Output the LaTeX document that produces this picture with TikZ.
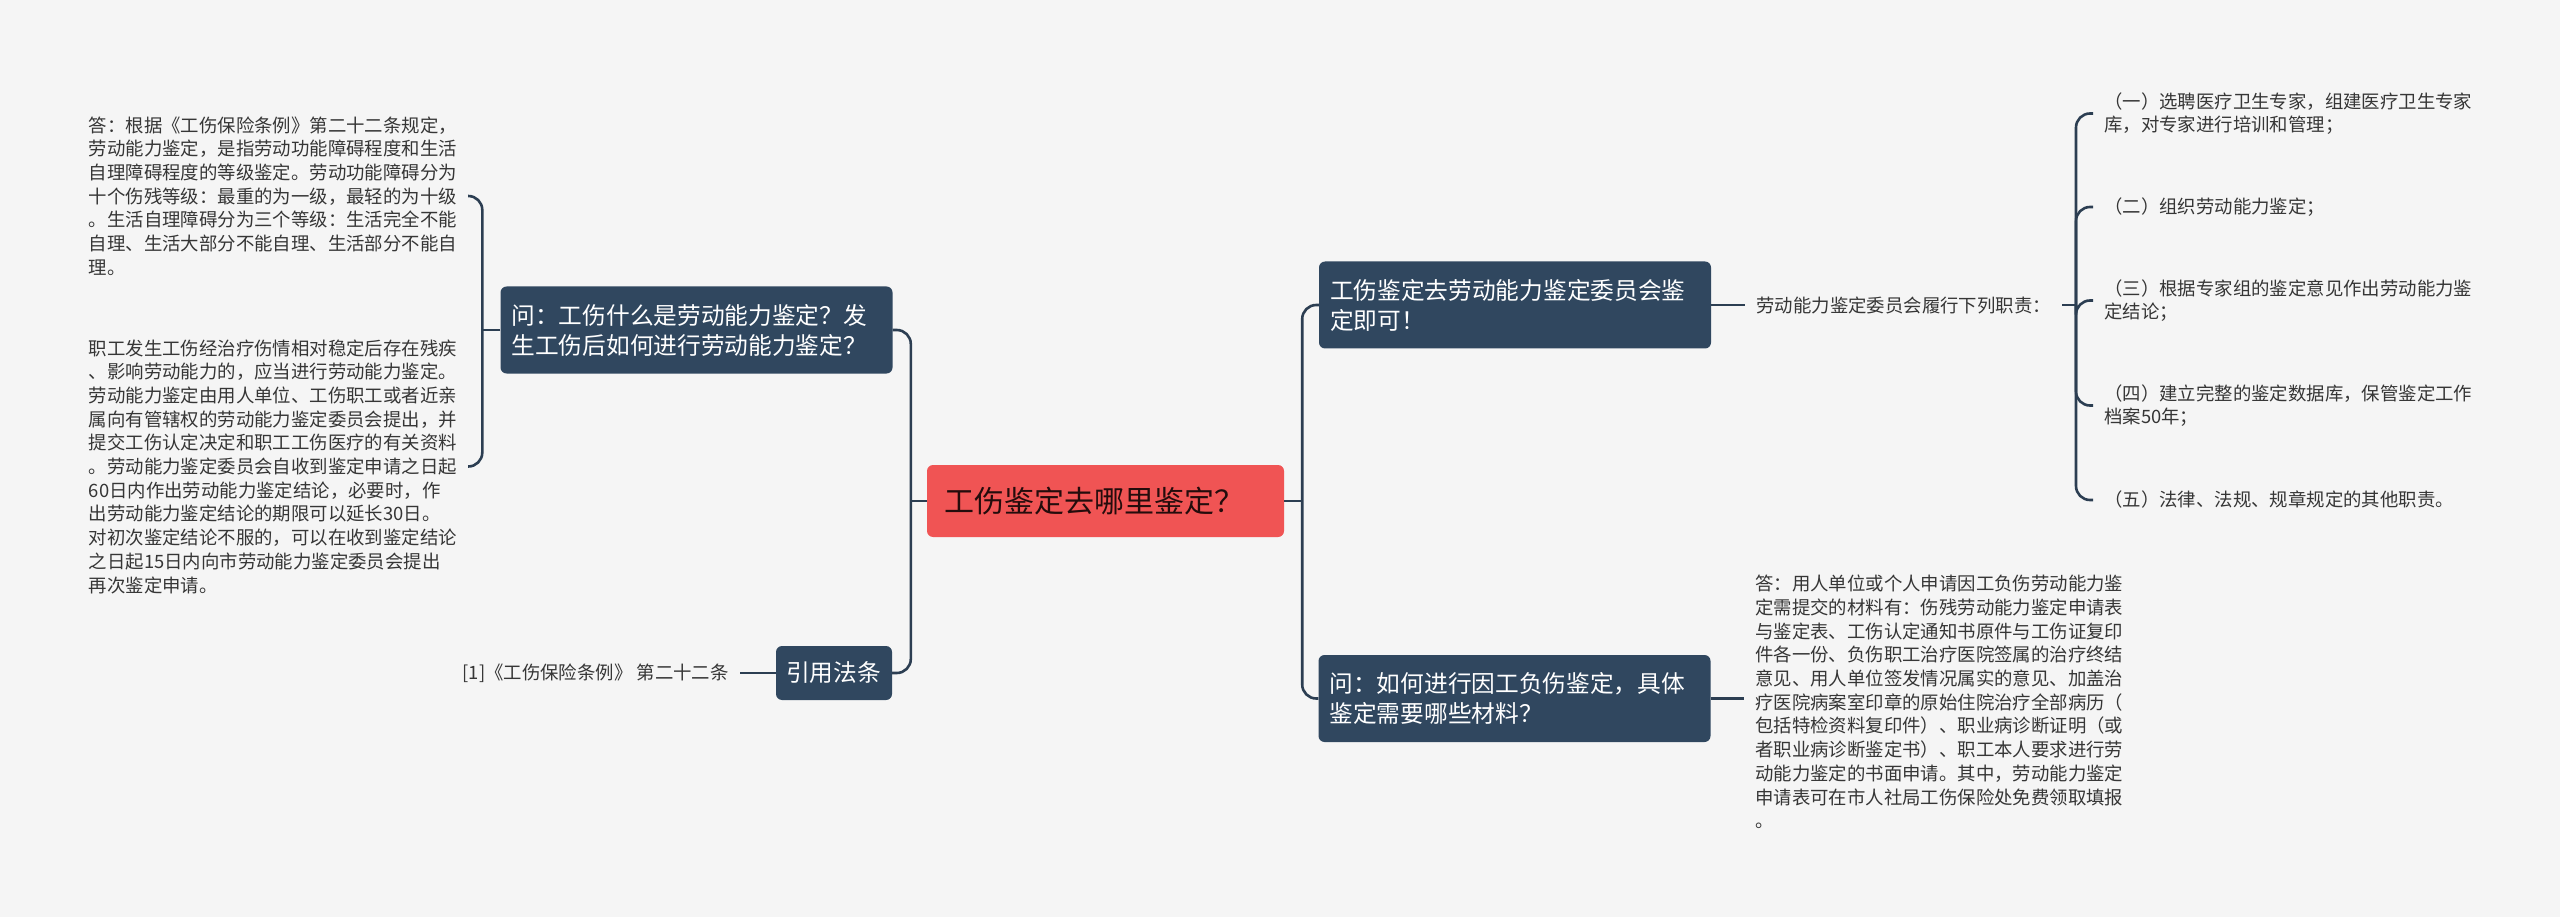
\documentclass[tikz,border=0pt]{standalone}
\usepackage{fontspec}
\setmainfont{Noto Sans CJK SC}
\usepackage{xcolor}
\usepackage{tikz}
\usetikzlibrary{positioning}

\definecolor{bgc}{HTML}{F5F5F5}
\definecolor{rootc}{HTML}{F05454}
\definecolor{topicc}{HTML}{30475F}
\definecolor{linec}{HTML}{2C3E52}
\definecolor{leafc}{HTML}{363636}

\begin{document}
\begin{tikzpicture}[
    x=1pt, y=-1pt,
    node distance=34pt,
    root/.style={rectangle, rounded corners=6pt, fill=rootc, text=rootc!15!black,
                 font=\fontsize{30}{36}\selectfont, minimum width=357pt,
                 minimum height=72pt, text width=323pt, inner xsep=17pt, align=left},
    topic/.style={rectangle, rounded corners=6pt, fill=topicc, text=white,
                  font=\fontsize{23.7}{30}\selectfont, minimum height=87pt,
                  text width=370pt, inner xsep=11pt, align=left},
    leaf/.style={inner xsep=11pt, inner ysep=0pt, text=leafc, align=left,
                 font=\fontsize{18.4}{23.7}\selectfont},
    conn/.style={draw=linec, line width=2.6pt, rounded corners=14pt}
]
\fill[bgc] (0,0) rectangle (2560,917);
\useasboundingbox (0,0) rectangle (2560,917);

\node[root] (root) at (1105.5,501) {工伤鉴定去哪里鉴定？};

\node[topic] (ask) at (696.5,330) {问：工伤什么是劳动能力鉴定？发\\生工伤后如何进行劳动能力鉴定？};
\node[topic, text width=96pt, minimum height=54pt, inner xsep=10pt] (cite) at (834,673) {引用法条};
\node[topic] (where) at (1515,305) {工伤鉴定去劳动能力鉴定委员会鉴\\定即可！};
\node[topic] (howto) at (1514.5,698.5) {问：如何进行因工负伤鉴定，具体\\鉴定需要哪些材料？};

\node[leaf, anchor=east] (def) at (468,196) {答：根据《工伤保险条例》第二十二条规定，\\
劳动能力鉴定，是指劳动功能障碍程度和生活\\
自理障碍程度的等级鉴定。劳动功能障碍分为\\
十个伤残等级：最重的为一级，最轻的为十级\\
。生活自理障碍分为三个等级：生活完全不能\\
自理、生活大部分不能自理、生活部分不能自\\
理。};
\node[leaf, anchor=east] (proc) at (468,466.5) {职工发生工伤经治疗伤情相对稳定后存在残疾\\
、影响劳动能力的，应当进行劳动能力鉴定。\\
劳动能力鉴定由用人单位、工伤职工或者近亲\\
属向有管辖权的劳动能力鉴定委员会提出，并\\
提交工伤认定决定和职工工伤医疗的有关资料\\
。劳动能力鉴定委员会自收到鉴定申请之日起\\
60日内作出劳动能力鉴定结论，必要时，作\\
出劳动能力鉴定结论的期限可以延长30日。\\
对初次鉴定结论不服的，可以在收到鉴定结论\\
之日起15日内向市劳动能力鉴定委员会提出\\
再次鉴定申请。};
\node[leaf, left=36pt of cite] (law) {[1]《工伤保险条例》 第二十二条};

\node[leaf, right=34pt of where] (duty) {劳动能力鉴定委员会履行下列职责：};
\node[leaf, anchor=west] (d1) at (2093,113.5) {（一）选聘医疗卫生专家，组建医疗卫生专家\\库，对专家进行培训和管理；};
\node[leaf, anchor=west] (d2) at (2093,207) {（二）组织劳动能力鉴定；};
\node[leaf, anchor=west] (d3) at (2093,300.5) {（三）根据专家组的鉴定意见作出劳动能力鉴\\定结论；};
\node[leaf, anchor=west] (d4) at (2093,405.5) {（四）建立完整的鉴定数据库，保管鉴定工作\\档案50年；};
\node[leaf, anchor=west] (d5) at (2093,500) {（五）法律、法规、规章规定的其他职责。};

\node[leaf, anchor=west] (need) at (1744,702) {答：用人单位或个人申请因工负伤劳动能力鉴\\
定需提交的材料有：伤残劳动能力鉴定申请表\\
与鉴定表、工伤认定通知书原件与工伤证复印\\
件各一份、负伤职工治疗医院签属的治疗终结\\
意见、用人单位签发情况属实的意见、加盖治\\
疗医院病案室印章的原始住院治疗全部病历（\\
包括特检资料复印件）、职业病诊断证明（或\\
者职业病诊断鉴定书）、职工本人要求进行劳\\
动能力鉴定的书面申请。其中，劳动能力鉴定\\
申请表可在市人社局工伤保险处免费领取填报\\
。};

\draw[conn] (root.west) -- ++(-16,0) coordinate (lj);
\draw[conn] (ask.east) -| (lj) |- (cite.east);
\draw[conn] (root.east) -- ++(18,0) coordinate (rj);
\draw[conn] (where.west) -| (rj) |- (howto.west);
\draw[conn] (ask.west) -- ++(-18,0) coordinate (aj);
\draw[conn] (def.east) -| (aj) |- (proc.east);
\draw[conn] (cite.west) -- (law.east);
\draw[conn] (where.east) -- (duty.west);
\draw[conn] (howto.east) -- (need.west |- howto.east);
\draw[conn] (duty.east) -- ++(14,0) coordinate (dj);
\draw[conn] (d1.west) -| (dj) |- (d5.west);
\foreach \n in {d2,d3,d4}
    \draw[conn] (dj) |- (\n.west);
\end{tikzpicture}
\end{document}
